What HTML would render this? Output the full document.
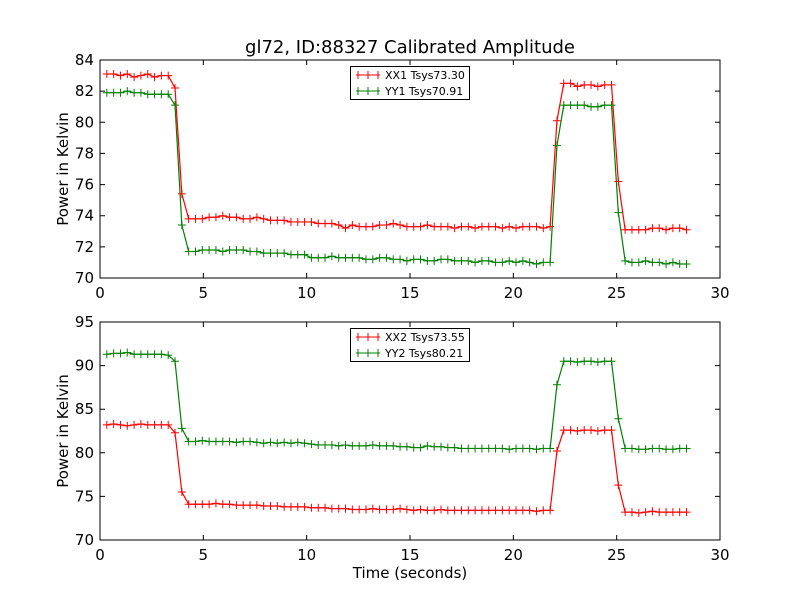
<!DOCTYPE html>
<html><head><meta charset="utf-8"><style>
body{margin:0;background:#fff;}
svg{display:block;font-family:"DejaVu Sans","Liberation Sans",sans-serif;}
</style></head><body>
<svg id="fig" width="800" height="600" viewBox="0 0 800 600">
<rect width="800" height="600" fill="#fff"/>
<text x="410" y="53" text-anchor="middle" font-size="18">gl72, ID:88327 Calibrated Amplitude</text>
<g id="top"></g>
<g id="bot"></g>
<text x="410" y="578" text-anchor="middle" font-size="15">Time (seconds)</text>
</svg>
<script>
const xTicks=[0,5,10,15,20,25,30];
const yTicksTop=[70,72,74,76,78,80,82,84];
const yTicksBot=[70,75,80,85,90,95];
const dt=0.33;
const xx1=[83.1,83.1,83.0,83.1,82.9,83.0,83.1,82.9,83.0,83.0,82.2,75.4,
73.8,73.8,73.8,73.9,73.9,74.0,73.9,73.9,73.8,73.8,73.9,73.8,73.7,73.7,73.7,73.6,73.6,73.6,73.6,73.5,73.5,73.5,73.4,73.2,73.4,73.3,73.3,73.3,73.4,73.4,73.5,73.4,73.3,73.3,73.3,73.4,73.3,73.3,73.3,73.2,73.3,73.3,73.2,73.3,73.3,73.3,73.2,73.3,73.2,73.3,73.3,73.3,73.2,73.3,
80.1,82.5,82.5,82.3,82.4,82.4,82.3,82.4,82.4,76.2,
73.1,73.1,73.1,73.1,73.2,73.2,73.1,73.2,73.2,73.1];
const yy1=[81.9,81.9,81.9,82.0,81.9,81.9,81.8,81.8,81.8,81.8,81.1,73.4,
71.7,71.7,71.8,71.8,71.8,71.7,71.8,71.8,71.8,71.7,71.7,71.6,71.6,71.6,71.6,71.5,71.5,71.5,71.3,71.3,71.3,71.4,71.3,71.3,71.3,71.3,71.2,71.2,71.3,71.3,71.2,71.2,71.1,71.2,71.2,71.1,71.1,71.2,71.2,71.1,71.1,71.1,71.0,71.1,71.1,71.0,71.0,71.1,71.0,71.1,71.0,70.9,71.0,71.0,
78.5,81.1,81.1,81.1,81.1,81.0,81.0,81.1,81.1,74.2,
71.1,71.0,71.0,71.1,71.0,71.0,70.9,71.0,70.9,70.9];
const xx2=[83.2,83.3,83.2,83.1,83.2,83.3,83.2,83.2,83.2,83.2,82.3,75.5,
74.1,74.1,74.1,74.1,74.2,74.1,74.1,74.0,74.0,74.0,74.0,73.9,73.9,73.9,73.8,73.8,73.8,73.8,73.7,73.7,73.7,73.6,73.6,73.6,73.5,73.5,73.5,73.6,73.5,73.5,73.5,73.6,73.5,73.4,73.5,73.4,73.4,73.5,73.4,73.4,73.4,73.4,73.4,73.4,73.4,73.4,73.4,73.4,73.4,73.4,73.4,73.3,73.4,73.4,
80.2,82.6,82.6,82.5,82.6,82.6,82.5,82.6,82.6,76.3,
73.2,73.2,73.1,73.2,73.3,73.2,73.2,73.2,73.2,73.2];
const yy2=[91.3,91.4,91.4,91.5,91.3,91.3,91.3,91.3,91.3,91.2,90.5,82.8,
81.3,81.3,81.4,81.3,81.3,81.3,81.3,81.2,81.3,81.3,81.2,81.1,81.2,81.1,81.2,81.1,81.2,81.1,81.0,80.9,80.9,80.9,80.8,80.9,80.8,80.8,80.8,80.9,80.8,80.8,80.8,80.7,80.7,80.6,80.6,80.8,80.7,80.7,80.6,80.6,80.5,80.5,80.5,80.5,80.5,80.5,80.5,80.4,80.5,80.5,80.5,80.4,80.5,80.5,
87.8,90.5,90.5,90.4,90.5,90.5,90.4,90.5,90.5,83.9,
80.5,80.5,80.4,80.4,80.5,80.5,80.4,80.4,80.5,80.5];
const times=xx1.map((_,i)=>dt*(i+1));
const NS='http://www.w3.org/2000/svg';
function mk(p,tag,a){const e=document.createElementNS(NS,tag);for(const k in a)e.setAttribute(k,a[k]);p.appendChild(e);return e;}
function panel(g,top,bot,ymin,ymax,yTicks,series,names){
  const L=100,R=720;
  const sx=v=>L+(v-0)/(30-0)*(R-L);
  const sy=v=>bot-(v-ymin)/(ymax-ymin)*(bot-top);
  for(const t of xTicks){
    const x=sx(t);
    const tk=mk(g,'path',{d:`M${x},${bot}v-5M${x},${top}v5`,stroke:'#000','stroke-width':1});
    
    
    const lb=mk(g,'text',{x:x,y:bot+20,'text-anchor':'middle','font-size':15});
    
    
    lb.textContent=t;
  }
  for(const t of yTicks){
    const y=sy(t);
    const tk=mk(g,'path',{d:`M${L},${y}h5M${R},${y}h-5`,stroke:'#000','stroke-width':1});
    
    
    const lb=mk(g,'text',{x:L-6,y:y+5,'text-anchor':'end','font-size':15});
    
    
    lb.textContent=t;
  }
  series.forEach((s,k)=>{
    const col=k==0?'#ff0000':'#008000';
    const pts=s.vals.map((v,i)=>[sx(times[i]),sy(v)]);
    const ln=mk(g,'polyline',{points:pts.map(p=>p.join(',')).join(' '),fill:'none',stroke:col,'stroke-width':1.2});
    
    
    let d='';for(const p of pts)d+=`M${p[0]-4},${p[1]}h8M${p[0]},${p[1]-4}v8`;
    const mkr=mk(g,'path',{d:d,stroke:col,'stroke-width':1});
    
    
  });
  const fr=mk(g,'rect',{x:L,y:top,width:R-L,height:bot-top,fill:'none',stroke:'#000','stroke-width':1});
  
  
  const yt=mk(g,'text',{x:0,y:0,'text-anchor':'middle','font-size':15,transform:`translate(68,${(top+bot)/2}) rotate(-90)`});
  
  
  yt.textContent='Power in Kelvin';
  const lg=mk(g,'g',{});
  
  
  mk(lg,'rect',{x:350.5,y:top+6.5,width:119,height:33,fill:'#fff',stroke:'#000','stroke-width':1});
  names.forEach((n,k)=>{
    const col=k==0?'#ff0000':'#008000';
    const y=top+15+k*16;
    const e=mk(lg,'path',{d:`M356,${y}h24M368,${y-4}v8M358,${y-4}v8M378,${y-4}v8`,stroke:col,'stroke-width':1});
    
    
    const t=mk(lg,'text',{x:385,y:y+4,'font-size':11});
    
    
    t.textContent=n;
  });
}
panel(document.getElementById('top'),60,278,70,84,yTicksTop,[{name:'xx1',vals:xx1},{name:'yy1',vals:yy1}],['XX1 Tsys73.30','YY1 Tsys70.91']);
panel(document.getElementById('bot'),322,540,70,95,yTicksBot,[{name:'xx2',vals:xx2},{name:'yy2',vals:yy2}],['XX2 Tsys73.55','YY2 Tsys80.21']);
</script>
</body></html>
